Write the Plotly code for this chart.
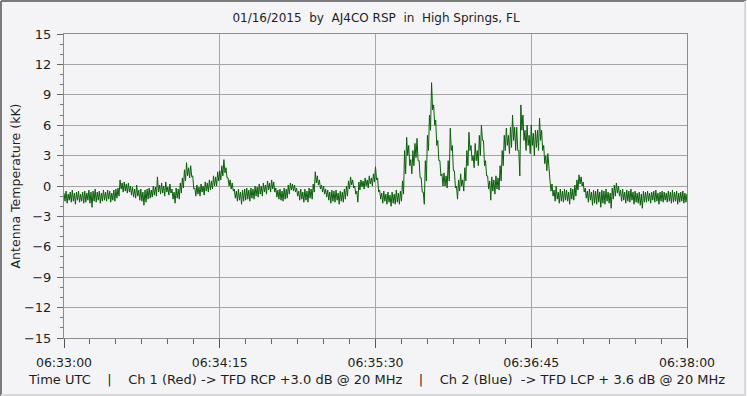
import plotly.graph_objects as go

# Per-second upper and lower edges (kK) of the noisy trace,
# for seconds 0..300 after 06:33:00
temp_high = [
    -0.7, -0.5, -0.8, -0.6, -0.4, -0.7, -0.6, -0.5, -0.8, -0.6,
    -0.5, -0.7, -0.4, -0.6, -0.5, -0.3, -0.6, -0.5, -0.7, -0.4,
    -0.6, -0.4, -0.5, -0.7, -0.4, -0.3, -0.2, 0.6, 0.3, 0.4,
    0.2, 0.3, 0.0, -0.1, -0.3, 0.1, -0.4, -0.3, -0.6, -0.4,
    -0.3, -0.2, -0.4, 0.0, -0.1, 0.9, 0.1, 0.3, 0.0, 0.4,
    -0.1, 0.2, -0.3, -0.6, -0.2, -0.3, 0.3, 0.8, 1.6, 2.3,
    1.8, 2.0, 1.0, -0.2, 0.1, -0.1, 0.2, 0.0, 0.4, 0.3,
    0.6, 0.5, 1.0, 0.9, 1.4, 1.5, 2.0, 2.6, 1.8, 0.8,
    0.6, 0.3, -0.3, -0.5, -0.3, -0.6, -0.4, -0.3, -0.2, -0.4,
    -0.2, -0.3, 0.0, -0.1, 0.2, 0.0, 0.3, 0.1, 0.5, 0.3,
    0.6, 0.4, -0.2, -0.4, -0.3, -0.5, -0.2, -0.3, 0.1, 0.3,
    0.2, 0.1, -0.2, -0.5, -0.3, -0.6, -0.3, -0.5, -0.2, -0.3,
    0.2, 1.4, 1.0, 0.6, 0.1, 0.0, -0.3, -0.4, -0.6, -0.4,
    -0.5, -0.4, -0.7, -0.5, -0.6, -0.3, 0.0, 0.5, 0.9, 0.6,
    0.0, -0.5, 0.4, 0.6, 0.5, 0.8, 0.6, 1.0, 0.8, 1.2,
    1.9, 0.8, -0.4, -0.7, -0.5, -0.8, -0.6, -0.9, -0.6, -0.8,
    -0.4, -0.7, -0.5, 0.5, 3.5, 4.8, 4.0, 2.6, 3.5, 4.2,
    4.7, 2.5, 0.8, -0.6, 2.5, 5.0, 7.0, 10.2, 8.0, 6.5,
    4.5, 2.5, 1.2, 1.3, 1.0, 2.5, 5.7, 4.0, 1.5, 0.0,
    0.6, 1.2, 0.6, 1.8, 3.5, 5.3, 4.0, 3.0, 4.2, 3.5,
    5.0, 6.0, 4.5, 2.5, 1.0, 0.5, 0.9, 0.6, 1.0, 0.8,
    2.0, 3.5, 5.0, 5.7, 5.0, 5.8, 7.0, 5.8, 5.8, 3.5,
    8.0, 7.0, 5.5, 6.0, 5.0, 6.0, 5.2, 5.5, 5.5, 6.7,
    5.5, 4.0, 3.0, 3.2, 0.6, 0.2, -0.4, 0.0, -0.6, -0.3,
    -0.5, -0.3, -0.4, -0.6, -0.2, -0.3, 0.1, 0.6, 1.1, 0.9,
    0.4, -0.2, -0.5, -0.3, -0.6, -0.4, -0.5, -0.3, -0.6, -0.4,
    -0.5, -0.3, -0.6, -0.7, -0.2, 0.1, 0.3, 0.0, -0.4, -0.3,
    -0.6, -0.4, -0.5, -0.3, -0.6, -0.5, -0.7, -0.6, -0.8, -0.5,
    -0.6, -0.5, -0.7, -0.6, -0.5, -0.4, -0.7, -0.6, -0.5, -0.6,
    -0.7, -0.5, -0.6, -0.4, -0.6, -0.5, -0.7, -0.6, -0.5, -0.7,
    -0.8,
]
temp_low = [
    -1.5, -1.7, -1.4, -1.6, -1.5, -1.8, -1.4, -1.6, -1.5, -1.7,
    -1.6, -1.4, -1.7, -2.1, -1.5, -1.6, -1.4, -1.7, -1.5, -1.4,
    -1.5, -1.3, -1.6, -1.4, -1.5, -1.2, -1.0, -0.3, -0.6, -0.5,
    -0.7, -0.6, -0.9, -1.1, -1.2, -1.0, -1.4, -1.5, -1.9, -1.6,
    -1.3, -1.2, -1.1, -0.9, -1.0, -0.6, -0.8, -0.7, -1.0, -0.6,
    -0.9, -0.7, -1.3, -1.7, -1.2, -1.3, -0.7, -0.2, 0.5, 1.0,
    0.8, 0.9, -0.3, -1.0, -0.8, -1.0, -0.6, -0.9, -0.5, -0.6,
    -0.4, -0.3, 0.0, 0.0, 0.5, 0.6, 1.0, 1.3, 0.8, 0.0,
    -0.3, -0.5, -1.2, -1.5, -1.4, -1.8, -1.5, -1.4, -1.3, -1.5,
    -1.2, -1.3, -1.0, -1.1, -0.8, -1.0, -0.6, -0.8, -0.4, -0.6,
    -0.3, -0.6, -1.1, -1.3, -1.4, -1.5, -1.3, -1.2, -0.8, -0.4,
    -0.5, -0.6, -1.0, -1.4, -1.3, -1.6, -1.4, -1.6, -1.2, -1.3,
    -0.6, 0.3, 0.1, -0.3, -0.6, -0.8, -1.1, -1.4, -1.7, -1.5,
    -1.6, -1.4, -1.8, -1.5, -1.6, -1.3, -1.0, -0.3, 0.1, -0.2,
    -0.8, -1.6, -0.4, -0.1, -0.3, 0.0, -0.2, 0.2, 0.0, 0.4,
    0.6, -0.6, -1.3, -1.7, -1.5, -1.8, -1.6, -2.0, -1.7, -1.8,
    -1.6, -1.8, -1.5, -0.8, 1.2, 3.0, 2.0, 1.2, 2.0, 2.8,
    2.5, 0.8, -0.6, -1.8, 0.5, 3.5, 5.5, 7.5, 6.0, 4.0,
    2.5, 1.0, 0.0, 0.0, -0.2, 0.5, 3.5, 1.5, -0.2, -1.3,
    -0.5, 0.0, -0.5, 0.5, 2.0, 3.5, 2.5, 1.8, 2.5, 2.0,
    3.0, 4.5, 2.0, 1.0, -0.3, -1.4, -0.5, -0.8, -0.3, -0.4,
    0.5, 2.0, 3.5, 4.0, 3.2, 3.8, 4.5, 3.5, 3.5, 1.0,
    5.5, 4.5, 3.5, 4.0, 3.2, 4.0, 3.0, 3.8, 3.5, 4.5,
    3.5, 2.2, 1.5, 1.2, -0.5, -1.0, -1.5, -1.3, -1.7, -1.5,
    -1.6, -1.4, -1.5, -1.8, -1.3, -1.4, -1.0, -0.4, 0.2, 0.0,
    -0.6, -1.2, -1.6, -1.4, -1.9, -1.7, -1.8, -1.6, -2.1, -1.7,
    -1.8, -1.5, -1.7, -2.2, -1.3, -1.0, -0.7, -1.0, -1.5, -1.4,
    -1.7, -1.5, -1.6, -1.4, -1.8, -1.6, -1.7, -1.9, -2.2, -1.6,
    -1.6, -1.5, -1.7, -1.4, -1.6, -1.5, -1.8, -1.5, -1.6, -1.4,
    -1.6, -1.5, -1.7, -1.6, -1.5, -1.8, -1.6, -1.5, -1.7, -1.6,
    -1.5,
]
seconds = list(range(0, 301))

x_tick_vals = [0, 75, 150, 225, 300]
x_tick_text = ["06:33:00", "06:34:15", "06:35:30", "06:36:45", "06:38:00"]
y_tick_vals = [15, 12, 9, 6, 3, 0, -3, -6, -9, -12, -15]

title_text = "01/16/2015  by  AJ4CO RSP  in  High Springs, FL"
footer_text = ("Time UTC    |    Ch 1 (Red) -> TFD RCP +3.0 dB @ 20 MHz    |    "
               "Ch 2 (Blue)  -> TFD LCP + 3.6 dB @ 20 MHz")

# trace alternates between the upper edge and the lower edge within each second
trace_x, trace_y = [], []
for s, hi, lo in zip(seconds, temp_high, temp_low):
    trace_x += [s, s + 0.5]
    trace_y += [hi, lo]

NB = "\u00a0"
FONT = "DejaVu Sans"
BG = "#f4f4f6"
GRID = "#a6a6a6"
TXT = "#1e1e1e"

fig = go.Figure()
fig.add_trace(go.Scatter(
    x=trace_x, y=trace_y, mode="lines",
    line=dict(color="#0b5e0b", width=1),
    hoverinfo="skip", showlegend=False,
))

fig.update_layout(
    width=747, height=396,
    margin=dict(l=64, r=60, t=34, b=58),
    paper_bgcolor=BG, plot_bgcolor=BG,
    font=dict(family=FONT, size=12, color=TXT),
    title=dict(text=title_text.replace(" ", NB), x=376 / 747, xanchor="center",
               y=1 - 18 / 396, yanchor="middle",
               font=dict(family=FONT, size=12, color=TXT)),
    showlegend=False,
)

fig.update_xaxes(
    range=[0, 300], tickvals=x_tick_vals, ticktext=x_tick_text,
    showgrid=True, gridcolor=GRID, gridwidth=1, automargin=False,
    zeroline=False, showline=True, linecolor="#8c8c8c", linewidth=1, mirror=True,
    ticks="outside", ticklen=9, tickcolor="#555555", ticklabelstandoff=4,
    minor=dict(dtick=12.5, tick0=0, ticks="outside", ticklen=5, tickcolor="#666666", showgrid=False),
    tickfont=dict(family=FONT, size=12.5, color=TXT),
)
fig.update_yaxes(
    range=[-15, 15], tickvals=y_tick_vals,
    showgrid=True, gridcolor=GRID, gridwidth=1, automargin=False,
    zeroline=False, showline=True, linecolor="#8c8c8c", linewidth=1, mirror=True,
    ticks="outside", ticklen=6, tickcolor="#666666", ticklabelstandoff=3,
    minor=dict(dtick=1, tick0=0, ticks="outside", ticklen=3, tickcolor="#777777", showgrid=False),
    tickfont=dict(family=FONT, size=13, color=TXT),
    title=dict(text="Antenna Temperature (kK)", standoff=0,
               font=dict(family=FONT, size=12.5, color=TXT)),
)

fig.add_annotation(
    text=footer_text.replace(" ", NB), xref="paper", yref="paper",
    x=(376 - 64) / 623, y=-(379 - 338) / 304, xanchor="center", yanchor="middle",
    showarrow=False, font=dict(family=FONT, size=13, color=TXT),
)

# outer sunken frame of the picture
W, H = 623, 304
fig.add_shape(type="line", xref="paper", yref="paper",
              x0=-63 / W, x1=1 + 59 / W, y0=1 + 33 / H, y1=1 + 33 / H,
              line=dict(color="#7a7a7a", width=2))
fig.add_shape(type="line", xref="paper", yref="paper",
              x0=-63 / W, x1=-63 / W, y0=-58 / H, y1=1 + 33 / H,
              line=dict(color="#7a7a7a", width=2))
fig.add_shape(type="line", xref="paper", yref="paper",
              x0=1 + 58 / W, x1=1 + 58 / W, y0=-57 / H, y1=1 + 33 / H,
              line=dict(color="#d8d8da", width=2))
fig.add_shape(type="line", xref="paper", yref="paper",
              x0=-63 / W, x1=1 + 59 / W, y0=-57 / H, y1=-57 / H,
              line=dict(color="#d8d8da", width=2))

fig.write_html("out.html", config={"displayModeBar": False},
               post_script="document.body.style.margin='0';document.body.style.padding='0';")
